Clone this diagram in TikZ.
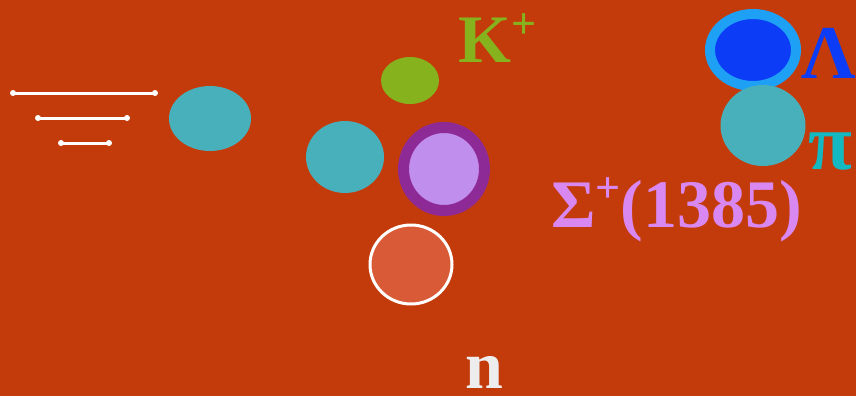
\documentclass[tikz,border=0pt]{standalone}
\usepackage{fontspec}
\setmainfont{Liberation Serif}
\usepackage{xcolor}
\usepackage{tikz}
\usetikzlibrary{shapes.geometric}
\definecolor{bgred}{RGB}{196,59,11}
\definecolor{pionteal}{RGB}{72,176,186}
\definecolor{kaongreen}{RGB}{134,178,30}
\definecolor{sigring}{RGB}{142,42,150}
\definecolor{sigfill}{RGB}{192,142,236}
\definecolor{sigtext}{RGB}{216,136,240}
\definecolor{neutron}{RGB}{216,90,54}
\definecolor{lamblue}{RGB}{12,60,245}
\definecolor{lamring}{RGB}{30,160,245}
\definecolor{pitext}{RGB}{20,184,192}
\newcommand{\chgplus}{\raisebox{0.36em}{\fontsize{44}{44}\selectfont +}}
\tikzset{
  ball/.style={ellipse, inner sep=0pt},
  pionball/.style={ball, fill=pionteal},
  kaonball/.style={ball, fill=kaongreen},
  sigball/.style={ball, draw=sigring, line width=11pt, fill=sigfill},
  lamball/.style={ball, draw=lamring, line width=10pt, fill=lamblue},
  nball/.style={ball, draw=white, line width=3pt, fill=neutron},
  lbl/.style={inner sep=0pt, anchor=base west, font=\fontsize{68}{70}\selectfont\bfseries},
  trail/.style={white, line width=3pt, line cap=round},
}

\begin{document}
\begin{tikzpicture}[x=1pt, y=-1pt]
  \fill[bgred] (0,0) rectangle (856,396);

  % motion trail
  \coordinate (a1) at (13,93);  \coordinate (a2) at (155,93);
  \coordinate (b1) at (38,118); \coordinate (b2) at (127,118);
  \coordinate (c1) at (61,143); \coordinate (c2) at (109,143);
  \foreach \s/\e in {a1/a2, b1/b2, c1/c2} {
    \draw[trail] (\s) -- (\e);
    \fill[white] (\s) circle (3pt) (\e) circle (3pt);
  }

  % particles
  \node[pionball, minimum width=82pt, minimum height=65pt] (pi1) at (210,118.5) {};
  \node[pionball, minimum width=78pt, minimum height=72pt] (pi2) at (345,157) {};
  \node[kaonball, minimum width=58pt, minimum height=47pt] (K) at (410,80.5) {};
  \node[sigball, minimum width=81pt, minimum height=83pt] (S) at (444,169) {};
  \node[nball, minimum width=82pt, minimum height=79pt] (N) at (411,264.5) {};
  \node[lamball, minimum width=86pt, minimum height=72pt] (L) at (753,50) {};
  \node[pionball, minimum width=85pt, minimum height=81pt] (pi3) at (763,125.5) {};

  % labels
  \node[lbl, text=kaongreen] (Kl) at (458,63) {K\chgplus};
  \node[lbl, text=sigtext] (Sl) at (551,227) {Σ\chgplus(1385)};
  \node[lbl, text=white!93!black] (Nl) at (465,388) {n};
  \node[lbl, text=lamblue, font=\fontsize{76}{78}\selectfont\bfseries] (Ll) at (801,78) {Λ};
  \node[lbl, text=pitext, font=\fontsize{80}{82}\selectfont\bfseries] (pil) at (808,169) {π};
\end{tikzpicture}
\end{document}
